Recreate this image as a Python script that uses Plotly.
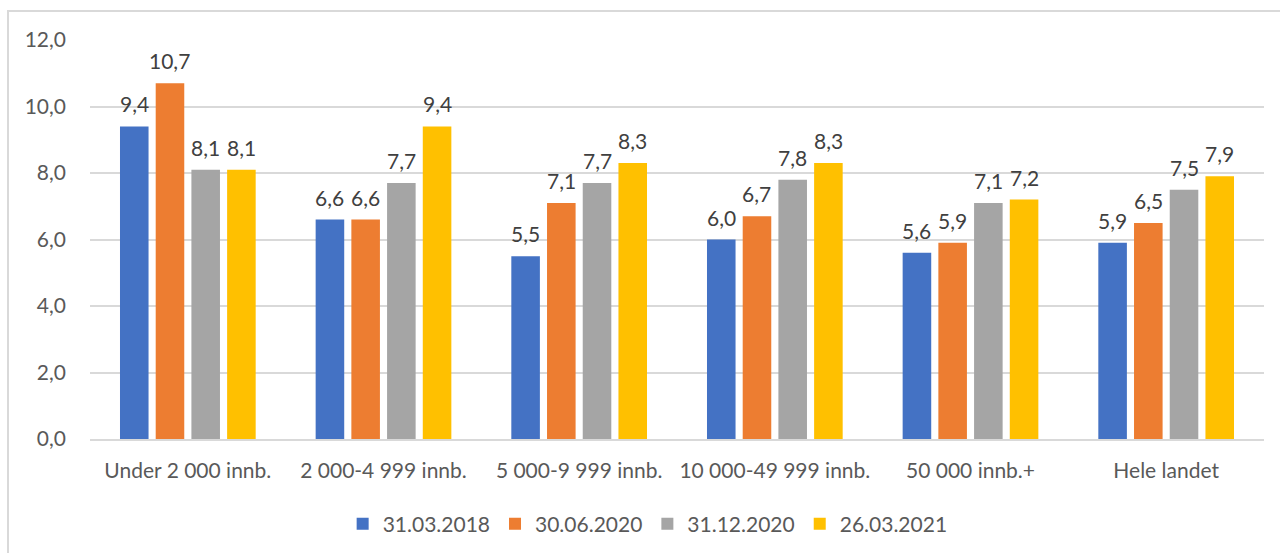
import plotly.graph_objects as go

categories = ["Under 2 000 innb.", "2 000-4 999 innb.", "5 000-9 999 innb.",
              "10 000-49 999 innb.", "50 000 innb.+", "Hele landet"]
series_names = ["31.03.2018", "30.06.2020", "31.12.2020", "26.03.2021"]
values_2018 = [9.4, 6.6, 5.5, 6.0, 5.6, 5.9]
values_2020_06 = [10.7, 6.6, 7.1, 6.7, 5.9, 6.5]
values_2020_12 = [8.1, 7.7, 7.7, 7.8, 7.1, 7.5]
values_2021 = [8.1, 9.4, 8.3, 8.3, 7.2, 7.9]
colors = ["#4472C4", "#ED7D31", "#A5A5A5", "#FFC000"]
all_series = [values_2018, values_2020_06, values_2020_12, values_2021]

W, H = 1280, 553
FONT = "Lato"
FS = 21
TXT = "#595959"
LBL = "#404040"
BARGAP, GROUPGAP = 0.27, 0.2

ml, mr, mt, mb = 90, 16, 40, 114
pw = W - ml - mr
ph = H - mt - mb

fig = go.Figure()
for name, vals, col in zip(series_names, all_series, colors):
    fig.add_trace(go.Bar(
        x=categories, y=vals, name=name,
        marker=dict(color=col, line=dict(width=0)),
    ))

# value labels above each bar, placed at the bar's centre within its group
cat_px = pw / len(categories)
slot_px = cat_px * (1 - BARGAP) / len(all_series)
annotations = []
for i, vals in enumerate(all_series):
    dx = (i - (len(all_series) - 1) / 2) * slot_px
    for c, v in zip(categories, vals):
        annotations.append(dict(
            x=c, y=v, xref="x", yref="y", text=f"{v:.1f}".replace(".", ","),
            showarrow=False, xshift=dx, yshift=8, yanchor="bottom",
            font=dict(family=FONT, size=FS, color=LBL),
        ))

fig.update_layout(
    width=W, height=H,
    margin=dict(l=ml, r=mr, t=mt, b=mb, autoexpand=False),
    paper_bgcolor="white", plot_bgcolor="white",
    separators=",.",
    barmode="group", bargap=BARGAP, bargroupgap=GROUPGAP,
    font=dict(family=FONT, size=FS, color=TXT),
    showlegend=True,
    legend=dict(orientation="h", x=0.475, xanchor="center",
                yref="container", y=1 - 524 / H, yanchor="middle",
                font=dict(family=FONT, size=FS, color=TXT),
                itemwidth=30, tracegroupgap=0),
    xaxis=dict(showgrid=False, showline=True, linecolor="#D9D9D9", linewidth=2,
               ticks="", tickfont=dict(family=FONT, size=FS, color=TXT),
               ticklabelstandoff=12),
    yaxis=dict(range=[0, 12], dtick=2, tickformat=".1f", showgrid=True,
               gridcolor="#D9D9D9", gridwidth=2, zeroline=False, showline=False,
               ticks="", tickfont=dict(family=FONT, size=FS, color=TXT),
               ticklabelstandoff=23),
    annotations=annotations,
)

# chart frame (top and left edges visible, the rest runs past the page)
fig.add_shape(type="rect", xref="paper", yref="paper",
              x0=(8 - ml) / pw, x1=(W + 20 - ml) / pw,
              y0=-(H + 20 - mt - ph) / ph, y1=(H - 11 - mb) / ph,
              line=dict(color="#D9D9D9", width=2), fillcolor="rgba(0,0,0,0)",
              layer="below")

fig.write_html("out.html")
